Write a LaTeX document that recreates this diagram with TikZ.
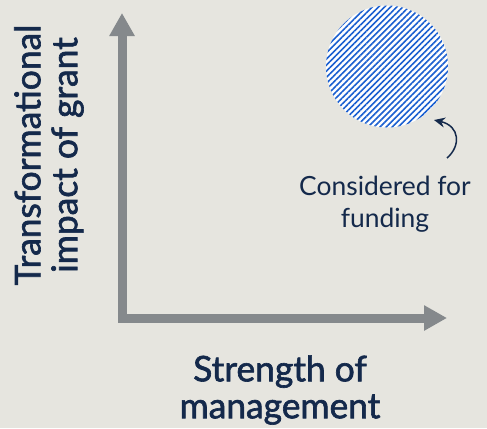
\documentclass[tikz,border=0pt]{standalone}
\usepackage{fontspec}
\setmainfont{Lato}
\newfontfamily\labelfont[FakeBold=1.8]{Lato}
\usepackage{tikz}
\usetikzlibrary{arrows.meta,patterns.meta}
\definecolor{paper}{HTML}{E6E5DF}
\definecolor{navy}{HTML}{14294B}
\definecolor{axisgray}{HTML}{85898C}
\definecolor{hatchblue}{HTML}{1A5FD0}
\begin{document}
\begin{tikzpicture}[x=1bp,y=-1bp,
    axis/.style={draw=axisgray,line width=9bp,line join=miter,
      {Triangle[length=23bp,width=24bp]}-{Triangle[length=23bp,width=24bp]}},
    funded/.style={circle,minimum size=122bp,inner sep=0pt,preaction={fill=white},
      pattern={Lines[angle=45,distance=4.3bp,line width=1.6bp]},pattern color=hatchblue},
    label/.style={text=navy,align=center,font=\labelfont\fontsize{35.5}{37}\selectfont},
    note/.style={text=navy,align=center,font=\fontsize{26.5}{32}\selectfont},
    pointer/.style={draw=navy,line width=1.5bp,-{Stealth[length=11bp,width=10bp]}}]
  \fill[paper] (0,0) rectangle (487,428);
  \useasboundingbox (0,0) rectangle (487,428);
  \coordinate (ytop) at (122,13);
  \coordinate (origin) at (122,318);
  \coordinate (xend) at (447,318);
  \draw[axis] (ytop) -- (origin) -- (xend);
  \node[funded] (circ) at (387,66.5) {};
  \node[note] (cons) at (385,204) {Considered for\\funding};
  \coordinate (pstart) at (447,158);
  \coordinate (pend) at (434,120);
  \draw[pointer] (pstart) .. controls (461,146) and (460,126) .. (pend);
  \node[label,rotate=90] (ylab) at (49,155) {Transformational\\impact of grant};
  \node[label] (xlab) at (280,390) {Strength of\\management};
\end{tikzpicture}
\end{document}
